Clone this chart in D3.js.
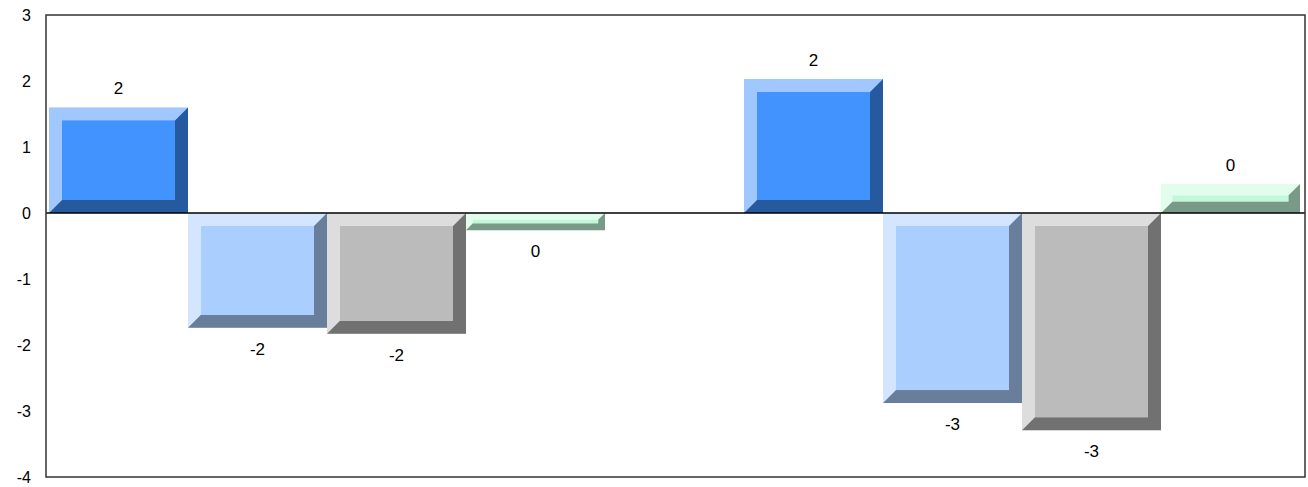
<!DOCTYPE html>
<html>
<head>
<meta charset="utf-8">
<script src="https://cdn.jsdelivr.net/npm/d3@7"></script>
<style>
  html, body { margin: 0; padding: 0; background: #fff; }
  svg { display: block; font-family: Arial, "Liberation Sans", sans-serif; }
</style>
</head>
<body>
<div id="chart-container"></div>
<script>
// chart data

const categories = ["Group 1", "Group 2"];
const seriesNames = ["Series 1", "Series 2", "Series 3", "Series 4"];
const series1 = [1.6, 2.03];
const series2 = [-1.74, -2.88];
const series3 = [-1.83, -3.29];
const series4 = [-0.26, 0.44];
const yTicks = [3, 2, 1, 0, -1, -2, -3, -4];

// bevel colours per series: light edge, face, dark edge
const palette = [
  { light: "#a0c8fe", face: "#4393fe", dark: "#265a9f" },
  { light: "#d4e6ff", face: "#aacffe", dark: "#687e9b" },
  { light: "#dddddd", face: "#bbbbbb", dark: "#717171" },
  { light: "#e2fcee", face: "#c2f7da", dark: "#789a86" }
];

const totalWidth = 1308;
const totalHeight = 487;
const plot = { left: 46, top: 15, right: 1305, bottom: 477 };

const allSeries = [series1, series2, series3, series4];
const rows = [];
categories.forEach((c, i) => {
  allSeries.forEach((s, j) => {
    rows.push({ category: c, series: seriesNames[j], idx: j, value: s[i] });
  });
});

const svg = d3.select("#chart-container")
  .append("svg")
    .attr("width", totalWidth)
    .attr("height", totalHeight);

const y = d3.scaleLinear()
  .domain([-4, 3])
  .range([plot.bottom, plot.top]);

const x0 = d3.scaleBand()
  .domain(categories)
  .range([plot.left + 3, plot.right - 5])
  .paddingInner(0.2)
  .paddingOuter(0);

const x1 = d3.scaleBand()
  .domain(seriesNames)
  .range([0, x0.bandwidth()])
  .padding(0);

// y axis labels only, no tick marks
const yAxis = svg.append("g")
  .attr("transform", `translate(${plot.left - 15},0)`)
  .call(d3.axisLeft(y).tickValues(yTicks).tickSize(0).tickPadding(0));
yAxis.select(".domain").remove();
yAxis.selectAll("text")
  .attr("font-size", 16)
  .attr("font-family", "Arial, 'Liberation Sans', sans-serif")
  .attr("fill", "#000")
  .text(d => String(d));

// bars with bevelled edges
const bars = svg.append("g")
  .selectAll("g")
  .data(rows)
  .join("g");

bars.each(function (d) {
  const g = d3.select(this);
  const c = palette[d.idx];
  const bx = x0(d.category) + x1(d.series);
  const bw = x1.bandwidth();
  const top = y(Math.max(0, d.value));
  const bh = Math.abs(y(d.value) - y(0));
  const b = Math.min(13, bh * 0.4);
  const bot = top + bh;
  const r = bx + bw;

  g.append("rect")
    .attr("x", bx).attr("y", top)
    .attr("width", bw).attr("height", bh)
    .attr("fill", c.light);
  g.append("polygon")
    .attr("points", [[bx, bot], [r, bot], [r, top], [r - b, top + b], [r - b, bot - b], [bx + b, bot - b]].join(" "))
    .attr("fill", c.dark);
  g.append("rect")
    .attr("x", bx + b).attr("y", top + b)
    .attr("width", Math.max(0, bw - 2 * b)).attr("height", Math.max(0, bh - 2 * b))
    .attr("fill", c.face);
});

// zero line
svg.append("line")
  .attr("x1", plot.left).attr("x2", plot.right)
  .attr("y1", y(0)).attr("y2", y(0))
  .attr("stroke", "#000")
  .attr("stroke-width", 1.3);

// frame
svg.append("rect")
  .attr("x", plot.left).attr("y", plot.top)
  .attr("width", plot.right - plot.left)
  .attr("height", plot.bottom - plot.top)
  .attr("fill", "none")
  .attr("stroke", "#333")
  .attr("stroke-width", 1.5);

// value labels
const fmt = v => { const n = Math.round(v); return n === 0 ? "0" : String(n); };

svg.append("g")
  .selectAll("text")
  .data(rows)
  .join("text")
    .attr("x", d => x0(d.category) + x1(d.series) + x1.bandwidth() / 2)
    .attr("y", d => d.value >= 0 ? y(d.value) - 19 : y(d.value) + 21)
    .attr("dy", "0.35em")
    .attr("text-anchor", "middle")
    .attr("font-size", 17)
    .attr("fill", "#000")
    .text(d => fmt(d.value));
</script>
</body>
</html>
